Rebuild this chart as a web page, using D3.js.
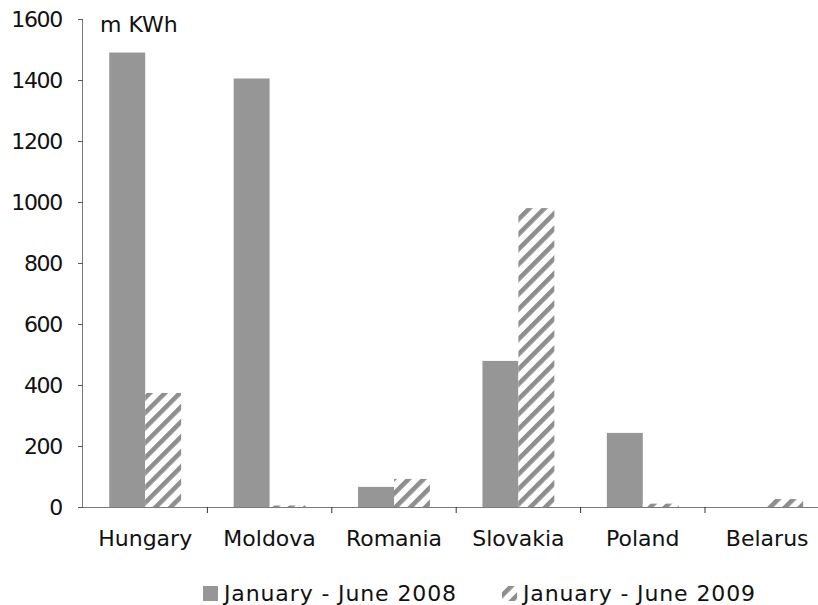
<!DOCTYPE html>
<html>
<head>
<meta charset="utf-8">
<script src="https://cdn.jsdelivr.net/npm/d3@7"></script>
<style>
  html, body { margin: 0; padding: 0; background: #fff; }
  svg { display: block; font-family: "DejaVu Sans", Verdana, sans-serif; }
</style>
</head>
<body>
<svg id="chart" width="818" height="605"></svg>
<script>
// Electricity volumes by country, first half of year
const categories = ["Hungary", "Moldova", "Romania", "Slovakia", "Poland", "Belarus"];
const seriesNames = ["January - June 2008", "January - June 2009"];
const values2008 = [1490, 1405, 66, 479, 243, 0];
const values2009 = [374, 5, 92, 980, 11, 26];
const yTicks = [0, 200, 400, 600, 800, 1000, 1200, 1400, 1600];
const unitLabel = "m KWh";

(function draw() {
  const svg = d3.select("#chart");
  const plotLeft = 83, plotTop = 19, plotBottom = 507;
  const bandWidth = 124.4;
  const plotRight = plotLeft + bandWidth * categories.length;
  const fontSize = 22;

  const x = d3.scaleBand().domain(categories).range([plotLeft, plotRight]).paddingInner(0).paddingOuter(0);
  const inner = d3.scaleBand().domain([0, 1]).range([0, x.bandwidth()]).paddingInner(0).paddingOuter(0.73);
  const y = d3.scaleLinear().domain([0, 1600]).range([plotBottom, plotTop]);

  const solid = "#969696";

  // diagonal hatch for the 2009 series
  const defs = svg.append("defs");
  const pat = defs.append("pattern")
    .attr("id", "hatch")
    .attr("patternUnits", "userSpaceOnUse")
    .attr("width", 10.6).attr("height", 10.6)
    .attr("patternTransform", "rotate(45)");
  pat.append("rect").attr("width", 10.6).attr("height", 10.6).attr("fill", "#fff");
  pat.append("rect").attr("x", 0).attr("y", 0).attr("width", 4.6).attr("height", 10.6).attr("fill", "#8e8e8e");
  defs.append("filter").attr("id", "soft")
    .append("feGaussianBlur").attr("stdDeviation", 0.6);

  // bars
  const rows = categories.map((c, i) => ({ c, v: [values2008[i], values2009[i]] }));
  const g = svg.append("g");
  rows.forEach(r => {
    g.append("rect")
      .attr("x", x(r.c) + inner(0))
      .attr("y", y(r.v[0]))
      .attr("width", inner.bandwidth())
      .attr("height", y(0) - y(r.v[0]))
      .attr("fill", solid);
    g.append("rect")
      .attr("x", x(r.c) + inner(1))
      .attr("y", y(r.v[1]))
      .attr("width", inner.bandwidth())
      .attr("height", y(0) - y(r.v[1]))
      .attr("fill", "url(#hatch)")
      .attr("filter", "url(#soft)");
  });

  // y axis
  const yAxis = svg.append("g")
    .attr("transform", `translate(${plotLeft},0)`)
    .call(d3.axisLeft(y).tickValues(yTicks).tickSize(5).tickPadding(16).tickFormat(d3.format("d")));
  yAxis.select(".domain").attr("stroke", "#7a7a7a").attr("stroke-width", 1).attr("d", `M-0.5,${plotTop}V${plotBottom}`);
  yAxis.selectAll(".tick line").attr("stroke", "#555");
  yAxis.selectAll("text").attr("font-size", fontSize).attr("fill", "#111")
    .attr("letter-spacing", "-1.3px")
    .attr("font-family", "DejaVu Sans, Verdana, sans-serif");

  // x axis with ticks between categories
  const xAxis = svg.append("g").attr("transform", `translate(0,${plotBottom})`);
  xAxis.append("line").attr("x1", plotLeft).attr("x2", plotRight).attr("y1", 0.5).attr("y2", 0.5)
    .attr("stroke", "#7a7a7a").attr("stroke-width", 1.2);
  categories.forEach((c, i) => {
    if (i > 0) {
      xAxis.append("line").attr("x1", x(c)).attr("x2", x(c)).attr("y1", 0).attr("y2", 6)
        .attr("stroke", "#333");
    }
    xAxis.append("text")
      .attr("x", x(c) + x.bandwidth() / 2)
      .attr("y", 39)
      .attr("text-anchor", "middle")
      .attr("font-size", fontSize)
      .attr("fill", "#111")
      .text(c);
  });

  // unit label
  svg.append("text").attr("x", 100).attr("y", 32).attr("font-size", fontSize).attr("fill", "#111").text(unitLabel);

  // legend
  const legend = svg.append("g");
  const legendItems = [
    { name: seriesNames[0], fill: solid, sx: 203 },
    { name: seriesNames[1], fill: "url(#hatch)", sx: 502 }
  ];
  legendItems.forEach(it => {
    legend.append("rect").attr("x", it.sx).attr("y", 586).attr("width", 15).attr("height", 15)
      .attr("fill", it.fill);
    legend.append("text").attr("x", it.sx + 21).attr("y", 601).attr("font-size", fontSize).attr("fill", "#111")
      .attr("textLength", 232).attr("lengthAdjust", "spacing")
      .text(it.name);
  });
})();
</script>
</body>
</html>
